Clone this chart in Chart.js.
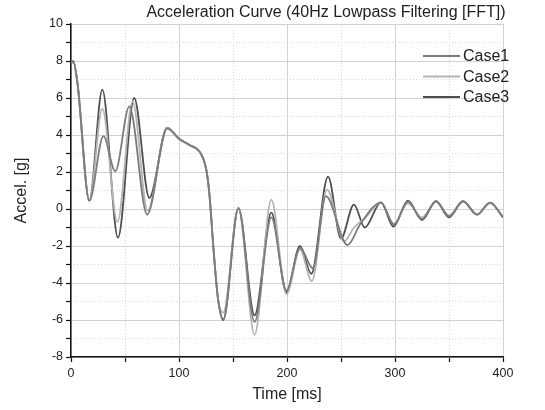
<!DOCTYPE html>
<html>
<head>
<meta charset="utf-8">
<script src="https://cdn.jsdelivr.net/npm/chart.js@4/dist/chart.umd.min.js"></script>
<style>
  body { margin: 0; background: #fff; }
  #wrap { width: 545px; height: 410px; }
</style>
</head>
<body>
<div id="wrap"><canvas id="grafico" width="545" height="410"></canvas></div>
<script>
// valores (tiempo en ms, aceleracion en g)
const case1Time  = [0, 2, 6, 17, 30, 41, 54, 70.5, 89, 100, 110, 119, 125, 128, 132, 136, 141, 155, 170, 185.5, 199.5, 212, 224, 236, 256, 268, 287, 299, 312, 325, 338, 350, 363, 376, 388, 400];
const case1Accel = [7.85, 8.0, 6.8, 0.45, 3.94, 2.04, 5.55, -0.3, 4.35, 3.8, 3.45, 3.1, 2.2, 0.9, -2.2, -4.8, -5.95, 0.05, -6.1, -0.45, -4.4, -2.1, -3.2, 0.7, -1.95, -0.8, 0.35, -0.85, 0.4, -0.55, 0.42, -0.4, 0.42, -0.3, 0.35, -0.45];

const case2Time  = [0, 2, 6, 17, 29, 43, 57, 71, 89, 100, 110, 119, 125, 128, 132, 136, 141, 155, 170, 185.5, 199.5, 212, 223, 237, 253, 262, 272, 287, 299, 312, 325, 338, 350, 363, 376, 388, 400];
const case2Accel = [7.85, 8.0, 6.8, 0.45, 5.42, -0.7, 5.8, -0.1, 4.4, 3.8, 3.45, 3.1, 2.2, 0.9, -2.2, -4.8, -5.6, 0.05, -6.8, 0.5, -4.6, -2.2, -3.9, 1.05, -1.75, -1.0, -0.5, 0.35, -0.8, 0.3, -0.45, 0.4, -0.35, 0.4, -0.3, 0.3, -0.4];

const case3Time  = [0, 2, 6, 17, 29, 43.5, 58.5, 72.5, 89, 100, 110, 119, 125, 128, 132, 136, 141, 155, 170, 185.5, 199.5, 212, 222.5, 238, 250, 262, 272, 287, 298.5, 312, 325, 338, 350, 363, 376, 388, 400];
const case3Accel = [7.85, 8.0, 6.8, 0.45, 6.45, -1.55, 6.0, 0.6, 4.4, 3.8, 3.45, 3.1, 2.2, 0.9, -2.2, -4.8, -6.0, 0.05, -5.75, -0.2, -4.5, -2.0, -3.5, 1.75, -1.6, 0.24, -1.0, 0.36, -0.95, 0.45, -0.6, 0.42, -0.45, 0.42, -0.3, 0.35, -0.45];

const seriesNames = ['Case1', 'Case2', 'Case3'];
const seriesColors = ['#7c7c7c', '#b4b4b4', '#4e4e4e'];

const xRange = [0, 400];   // ms, etiquetas cada 100, menores cada 50
const yRange = [-8, 10];   // g, etiquetas cada 2, menores cada 1
const chartTitle = 'Acceleration Curve (40Hz Lowpass Filtering [FFT])';

const FONT = '"Liberation Sans", Arial, sans-serif';
const MAJOR_GRID = '#d2d2d2';
const MINOR_GRID = '#d8d8d8';

const toPoints = (ts, vs) => ts.map((t, i) => ({ x: t, y: vs[i] }));

// titulo y leyenda dibujados a mano (posiciones del original)
const extras = {
    id: 'extras',
    afterDraw(chart) {
        const ctx = chart.ctx;
        ctx.save();
        ctx.fillStyle = '#222';
        ctx.font = '16px ' + FONT;
        ctx.textAlign = 'center';
        ctx.textBaseline = 'middle';
        ctx.fillText(chartTitle, 326, 13);

        ctx.textAlign = 'left';
        chart.data.datasets.forEach((ds, i) => {
            const y = 56 + i * 20.5;
            ctx.strokeStyle = ds.borderColor;
            ctx.lineWidth = 1.8;
            ctx.beginPath();
            ctx.moveTo(423, y);
            ctx.lineTo(460, y);
            ctx.stroke();
            ctx.fillStyle = '#222';
            ctx.fillText(ds.label, 463, y + 1);
        });
        ctx.restore();
    }
};

const datasets = [
    toPoints(case1Time, case1Accel),
    toPoints(case2Time, case2Accel),
    toPoints(case3Time, case3Accel)
].map((pts, i) => ({
    label: seriesNames[i],
    data: pts,
    borderColor: seriesColors[i],
    borderWidth: 1.8,
    pointRadius: 0,
    fill: false,
    cubicInterpolationMode: 'monotone'
}));

new Chart(document.getElementById('grafico'), {
    type: 'line',
    data: { datasets: datasets },
    plugins: [extras],
    options: {
        responsive: false,
        animation: false,
        layout: { padding: { left: 0, top: 24, right: 42, bottom: 0 } },
        plugins: {
            legend: { display: false },
            tooltip: { enabled: false }
        },
        scales: {
            x: {
                type: 'linear',
                position: 'bottom',
                min: xRange[0], max: xRange[1],
                afterFit: s => { s.height = 53; },
                ticks: {
                    stepSize: 50,
                    autoSkip: false,
                    maxRotation: 0,
                    padding: 4,
                    color: '#222',
                    font: { family: FONT, size: 12.5 },
                    callback: v => (v % 100 === 0 ? v : '')
                },
                grid: {
                    color: c => (c.tick && c.tick.value % 100 === 0 ? MAJOR_GRID : 'rgba(0,0,0,0)'),
                    lineWidth: 1,
                    tickColor: '#111',
                    tickLength: 5,
                    tickWidth: 1.2
                },
                border: { display: true, color: '#111', width: 1.5 },
                title: {
                    display: true,
                    text: 'Time [ms]',
                    color: '#222',
                    font: { family: FONT, size: 16 },
                    padding: { top: 0, bottom: 6 }
                }
            },
            y: {
                type: 'linear',
                position: 'left',
                min: yRange[0], max: yRange[1],
                afterFit: s => { s.width = 71; },
                ticks: {
                    stepSize: 1,
                    autoSkip: false,
                    padding: 3,
                    color: '#222',
                    font: { family: FONT, size: 12.5 },
                    callback: v => (v % 2 === 0 ? v : '')
                },
                grid: {
                    color: c => (c.tick && c.tick.value % 2 === 0 ? MAJOR_GRID : 'rgba(0,0,0,0)'),
                    lineWidth: 1,
                    tickColor: '#111',
                    tickLength: 5,
                    tickWidth: 1.2
                },
                border: { display: true, color: '#111', width: 1.5 },
                title: {
                    display: true,
                    text: 'Accel. [g]',
                    color: '#222',
                    font: { family: FONT, size: 16 },
                    padding: { top: 12, bottom: 0 }
                }
            },
            // ejes ocultos solo para la reticula menor punteada
            x2: {
                type: 'linear',
                position: 'top',
                min: xRange[0], max: xRange[1],
                ticks: { display: false, stepSize: 50 },
                grid: {
                    drawTicks: false,
                    color: c => (c.tick && c.tick.value % 100 !== 0 ? MINOR_GRID : 'rgba(0,0,0,0)')
                },
                border: { display: false, dash: [1, 2] }
            },
            y2: {
                type: 'linear',
                position: 'right',
                min: yRange[0], max: yRange[1],
                ticks: { display: false, stepSize: 1 },
                grid: {
                    drawTicks: false,
                    color: c => (c.tick && c.tick.value % 2 !== 0 ? MINOR_GRID : 'rgba(0,0,0,0)')
                },
                border: { display: false, dash: [1, 2] }
            }
        }
    }
});
</script>
</body>
</html>
